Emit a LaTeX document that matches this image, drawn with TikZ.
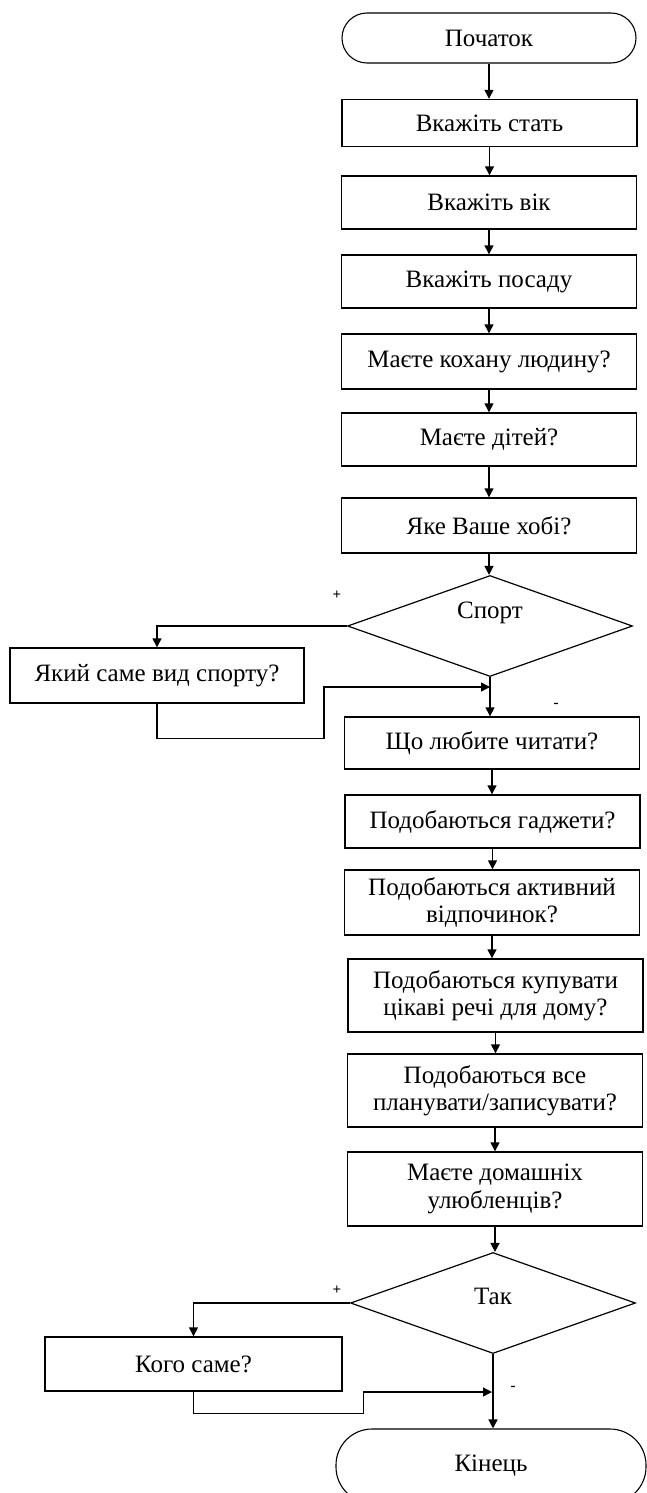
\documentclass[tikz,border=0pt]{standalone}
\usepackage{fontspec}
\setmainfont{Liberation Serif}
\usetikzlibrary{shapes.geometric,arrows.meta}

\begin{document}
\begin{tikzpicture}[x=1pt,y=-1pt,
  every node/.style={font=\fontsize{25}{27.5}\selectfont},
  block/.style={draw,line width=1.4pt,rectangle,minimum width=295pt,align=center,inner sep=0pt},
  term/.style={draw,line width=1.1pt,rectangle,rounded corners=25pt,minimum width=294pt,minimum height=50pt,inner sep=0pt},
  decision/.style={draw,line width=1.2pt,diamond,aspect=2.8,inner sep=0pt,minimum width=285pt,minimum height=101pt},
  sign/.style={font=\fontsize{15}{15}\selectfont\bfseries,inner sep=0pt},
  link/.style={line width=1.4pt},
  arr/.style={link,-{Triangle[length=9pt,width=9pt]}}
]
\fill[white] (0,0) rectangle (646,1493);
\useasboundingbox (0,0) rectangle (646,1493);

% main column
\node[term] (start) at (489,38) {Початок};
\node[block,minimum height=47pt] (b1) at (489.5,123) {Вкажіть стать};
\node[block,minimum height=53pt] (b2) at (489,202.5) {Вкажіть вік};
\node[block,minimum height=53pt] (b3) at (489,281.5) {Вкажіть посаду};
\node[block,minimum height=55pt] (b4) at (489,361.5) {Маєте кохану людину?};
\node[block,minimum height=53pt] (b5) at (489,439.5) {Маєте дітей?};
\node[block,minimum height=55pt] (b6) at (489,525.5) {Яке Ваше хобі?};
\node[decision,label={[yshift=13pt]center:Спорт}] (d1) at (490,626) {};
\node[block,minimum height=55pt,minimum width=294pt] (sp) at (157,675.5) {Який саме вид спорту?};
\node[block,minimum height=52pt] (b7) at (492,743) {Що любите читати?};
\node[block,minimum height=53pt] (b8) at (492.5,821.5) {Подобаються гаджети?};
\node[block,minimum height=65pt] (b9) at (492,902.5) {Подобаються активний\\відпочинок?};
\node[block,minimum height=73pt] (b10) at (495.5,995.5) {Подобаються купувати\\цікаві речі для дому?};
\node[block,minimum height=73pt] (b11) at (495,1090.5) {Подобаються все\\планувати/записувати?};
\node[block,minimum height=74pt] (b12) at (495,1189) {Маєте домашніх\\улюбленців?};
\node[decision,label={[yshift=7pt]center:Так}] (d2) at (493,1303) {};
\node[block,minimum height=54pt,minimum width=297pt] (kg) at (193.5,1364) {Кого саме?};
\node[term,minimum width=310pt,minimum height=74pt,rounded corners=36pt] (end) at (491,1466) {Кінець};

% branch signs
\node[sign] (p1) at (337,595) {+};
\node[sign] (n1) at (556,705) {-};
\node[sign] (p2) at (337,1290) {+};
\node[sign] (n2) at (513,1388) {-};

% merge points of the side branches
\coordinate (m1) at (490,687);
\coordinate (m2) at (492,1392);

% straight flow
\foreach \a/\b in {start/b1,b1/b2,b2/b3,b3/b4,b4/b5,b5/b6,b6/d1,b7/b8,b8/b9,b9/b10,b10/b11,b11/b12,b12/d2}
  \draw[arr] (\a.south) -- (\a.south |- \b.north);
\draw[arr] (d1.south) -- (d1.south |- b7.north);
\draw[arr] (d2.south) -- (d2.south |- end.north);

% "+" branches
\draw[arr] (d1.west) -| (sp.north);
\draw[arr] (sp.south) -- ++(0,35) -- ++(167,0) |- (m1);
\draw[arr] (d2.west) -| (kg.north);
\draw[arr] (kg.south) -- ++(0,22) -- ++(170,0) |- (m2);
\end{tikzpicture}
\end{document}
